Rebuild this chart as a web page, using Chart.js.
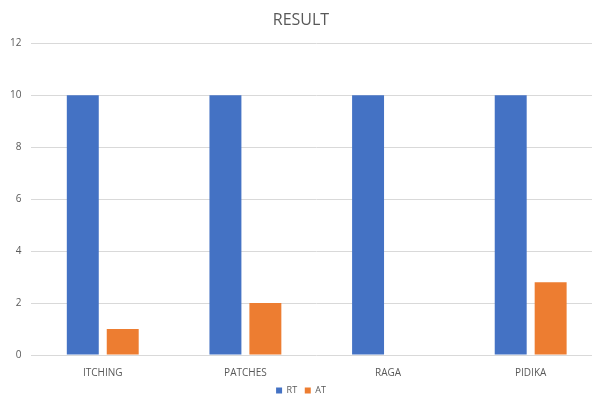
<!DOCTYPE html>
<html lang="en">
<head>
    <meta charset="UTF-8">
    <title>RESULT</title>
    <script src="https://cdn.jsdelivr.net/npm/chart.js"></script>
    <style>
        html, body {
            margin: 0;
            padding: 0;
            background: #fff;
            overflow: hidden;
        }
        #chart-container {
            width: 602px;
            height: 394px;
        }
    </style>
</head>
<body>
    <div id="chart-container">
        <canvas id="myChart"></canvas>
    </div>
    <script>
        const categories = ['ITCHING', 'PATCHES', 'RAGA', 'PIDIKA'];
        const rtValues = [10, 10, 10, 10];
        const atValues = [1, 2, 0, 2.8];

        const textColor = '#595959';
        const fontFamily = '"Open Sans", "Liberation Sans", sans-serif';

        const ctx = document.getElementById('myChart').getContext('2d');
        const myChart = new Chart(ctx, {
            type: 'bar',
            data: {
                labels: categories,
                datasets: [
                    {
                        label: 'RT',
                        data: rtValues,
                        backgroundColor: '#4472C4',
                        borderWidth: 0
                    },
                    {
                        label: 'AT',
                        data: atValues,
                        backgroundColor: '#ED7D31',
                        borderWidth: 0
                    }
                ]
            },
            options: {
                responsive: true,
                maintainAspectRatio: false,
                animation: false,
                categoryPercentage: 0.56,
                barPercentage: 0.8,
                layout: {
                    padding: { left: 0, right: 0, top: 4, bottom: -11 }
                },
                scales: {
                    x: {
                        grid: { display: false },
                        border: { display: false },
                        ticks: {
                            color: textColor,
                            font: { family: fontFamily, size: 10 },
                            padding: 4
                        }
                    },
                    y: {
                        min: 0,
                        max: 12,
                        ticks: {
                            stepSize: 2,
                            color: textColor,
                            font: { family: fontFamily, size: 10 },
                            padding: 10
                        },
                        grid: {
                            color: '#d9d9d9',
                            lineWidth: 1,
                            drawTicks: false
                        },
                        border: { display: false }
                    }
                },
                plugins: {
                    title: {
                        display: true,
                        text: 'RESULT',
                        color: textColor,
                        font: { family: fontFamily, size: 16, weight: 'normal' },
                        padding: { top: 7, bottom: 13 }
                    },
                    legend: {
                        display: true,
                        position: 'bottom',
                        labels: {
                            color: textColor,
                            font: { family: fontFamily, size: 9 },
                            boxWidth: 6,
                            boxHeight: 6,
                            padding: 3,
                            // a little extra room after the first entry
                            generateLabels: function(chart) {
                                const items = Chart.defaults.plugins.legend.labels.generateLabels(chart);
                                items.forEach(function(item, i) {
                                    if (i < items.length - 1) {
                                        item.text = item.text + '  ';
                                    }
                                });
                                return items;
                            }
                        }
                    },
                    tooltip: { enabled: false }
                }
            }
        });
    </script>
</body>
</html>
